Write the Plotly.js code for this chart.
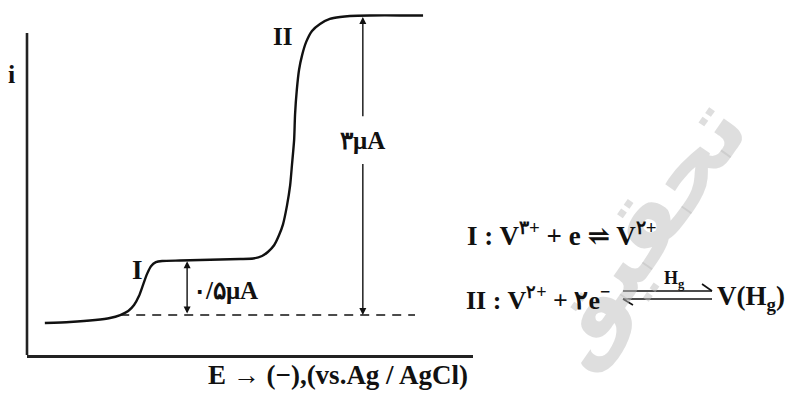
<!DOCTYPE html>
<html>
<head>
<meta charset="utf-8">
<script src="https://cdn.plot.ly/plotly-3.0.1.min.js"></script>
<style>html,body{margin:0;padding:0;background:#fff;}#chart{width:791px;height:393px;}</style>
</head>
<body>
<div id="chart"></div>
<script>
// Polarogram (schematic): potential E (arbitrary units) vs current i
const potentialE = [4.0, 9.6, 15.3, 18.6, 20.9, 22.7, 24.0, 25.1, 26.0, 26.9, 27.8, 28.9, 30.3, 34.3, 38.8, 43.3, 47.8, 50.7, 52.7, 54.0, 55.4, 56.5, 57.4, 58.3, 59.0, 59.4, 59.9, 60.1, 60.5, 61.0, 61.7, 62.6, 63.9, 65.7, 67.9, 70.2, 72.4, 76.9, 83.6, 88.8];
const currentI   = [-0.08, -0.07, -0.05, -0.03, 0.0, 0.04, 0.10, 0.19, 0.30, 0.41, 0.49, 0.53, 0.542, 0.547, 0.552, 0.557, 0.562, 0.567, 0.592, 0.632, 0.70, 0.80, 0.91, 1.10, 1.30, 1.50, 1.76, 2.01, 2.26, 2.46, 2.61, 2.74, 2.85, 2.92, 2.97, 2.99, 3.00, 3.005, 3.005, 3.005];
const baselineE = [20.9, 87.0];
const baselineI = [0, 0];

// wave heights (labelled diffusion currents)
const waveNames = ["I", "II"];
const waveE = [35.9, 75.3];          // where the height arrows are drawn
const waveLimit = [0.54, 3.0];       // limiting current of each wave
const waveLabels = ["۰/۵μA", "۳μA"];
const waveNameE = [24.7, 57.2];
const waveNameI = [0.45, 2.79];

const xTitle = "E → (−),(vs.Ag / AgCl)";
const yTitle = "i";
const eq1 = "I : V<sup>۳+</sup> + e ⇌ V<sup>۲+</sup>";
const eq2a = "II : V<sup>۲+</sup> + ۲e<sup>−</sup>";
const eq2cat = "H<sub>g</sub>";
const eq2b = "V(H<sub>g</sub>)";
const watermark = "تحقیق";

const serif = "Liberation Serif, Times New Roman, DejaVu Serif, serif";
const ink = "#111";
const tfont = (s) => ({family: serif, size: s, color: ink, weight: "bold"});

const traces = [
  {x: potentialE, y: currentI, mode: "lines", line: {color: ink, width: 2.4, shape: "spline", smoothing: 0.6}, hoverinfo: "skip"},
  {x: baselineE, y: baselineI, mode: "lines", line: {color: ink, width: 1.4, dash: "9px,7px"}, hoverinfo: "skip"}
];

const ann = [];
// faint diagonal watermark (drawn first)
ann.push({x: 1.374, y: 0.35, xref: "paper", yref: "paper", text: watermark, showarrow: false, textangle: -55, xanchor: "center", yanchor: "middle",
  font: {family: "DejaVu Sans, Noto Sans, sans-serif", size: 95, color: "rgba(190,190,190,0.5)", weight: "bold"}});
// wave I arrow (double headed)
ann.push({x: waveE[0], y: waveLimit[0], ax: waveE[0], ay: 0, xref: "x", yref: "y", axref: "x", ayref: "y",
  text: "", showarrow: true, arrowhead: 2, startarrowhead: 2, arrowside: "end+start", arrowsize: 1, arrowwidth: 1.4, arrowcolor: ink, standoff: 0, startstandoff: 0});
// wave II arrow, broken around its label
const gapTop = waveLimit[1] * 0.66, gapBot = waveLimit[1] * 0.51;
ann.push({x: waveE[1], y: waveLimit[1] - 0.01, ax: waveE[1], ay: gapTop, xref: "x", yref: "y", axref: "x", ayref: "y",
  text: "", showarrow: true, arrowhead: 2, arrowsize: 1, arrowwidth: 1.4, arrowcolor: ink, standoff: 0});
ann.push({x: waveE[1], y: 0, ax: waveE[1], ay: gapBot, xref: "x", yref: "y", axref: "x", ayref: "y",
  text: "", showarrow: true, arrowhead: 2, arrowsize: 1, arrowwidth: 1.4, arrowcolor: ink, standoff: 0});
// wave height labels
ann.push({x: waveE[0] + 0.9, y: waveLimit[0] * 0.46, xref: "x", yref: "y", text: waveLabels[0], showarrow: false, xanchor: "left", yanchor: "middle", font: tfont(25)});
ann.push({x: waveE[1], y: (gapTop + gapBot) / 2, xref: "x", yref: "y", text: waveLabels[1], showarrow: false, xanchor: "center", yanchor: "middle", font: tfont(25)});
// wave names
const nameSizes = [27, 25];
for (let k = 0; k < waveNames.length; k++) {
  ann.push({x: waveNameE[k], y: waveNameI[k], xref: "x", yref: "y", text: waveNames[k], showarrow: false, xanchor: "center", yanchor: "middle", font: tfont(nameSizes[k])});
}
// axis titles
ann.push({x: -0.034, y: 2.41, xref: "paper", yref: "y", text: yTitle, showarrow: false, xanchor: "center", yanchor: "middle", font: tfont(26)});
ann.push({x: 0.697, y: -0.055, xref: "paper", yref: "paper", text: xTitle, showarrow: false, xanchor: "center", yanchor: "middle", font: tfont(27)});
// reactions
ann.push({x: 0.982, y: 0.340, xref: "paper", yref: "paper", text: eq1, showarrow: false, xanchor: "left", yanchor: "middle", font: tfont(27)});
ann.push({x: 0.980, y: 0.160, xref: "paper", yref: "paper", text: eq2a, showarrow: false, xanchor: "left", yanchor: "middle", font: tfont(26)});
ann.push({x: 1.4507, y: 0.212, xref: "paper", yref: "paper", text: eq2cat, showarrow: false, xanchor: "center", yanchor: "middle", font: tfont(18)});
ann.push({x: 1.5426, y: 0.160, xref: "paper", yref: "paper", text: eq2b, showarrow: false, xanchor: "left", yanchor: "middle", font: tfont(27)});

const pl = (x0, y0, x1, y1, w) => ({type: "line", xref: "paper", yref: "paper", x0, y0, x1, y1, line: {color: ink, width: w}});
const shapes = [
  // y axis line
  {type: "line", xref: "paper", yref: "y", x0: 0, x1: 0, y0: -0.41, y1: 2.83, line: {color: "#222", width: 2.6}},
  // equilibrium arrow of reaction II
  pl(1.3363, 0.1803, 1.5359, 0.1803, 1.6),
  pl(1.5135, 0.200, 1.5359, 0.1803, 1.6),
  pl(1.3363, 0.1577, 1.5359, 0.1577, 1.6),
  pl(1.3363, 0.1577, 1.3587, 0.1408, 1.6)
];

const layout = {
  width: 791, height: 393,
  margin: {l: 27, r: 318, t: 0, b: 38, pad: 0},
  paper_bgcolor: "#fff", plot_bgcolor: "#fff",
  showlegend: false,
  xaxis: {range: [0, 100], showgrid: false, zeroline: false, showticklabels: false, ticks: "", showline: true, linewidth: 2.6, linecolor: "#222", fixedrange: true},
  yaxis: {range: [-0.401, 3.160], showgrid: false, zeroline: false, showticklabels: false, ticks: "", showline: false, fixedrange: true},
  annotations: ann,
  shapes: shapes
};

Plotly.newPlot("chart", traces, layout, {displayModeBar: false, staticPlot: true});
</script>
</body>
</html>
